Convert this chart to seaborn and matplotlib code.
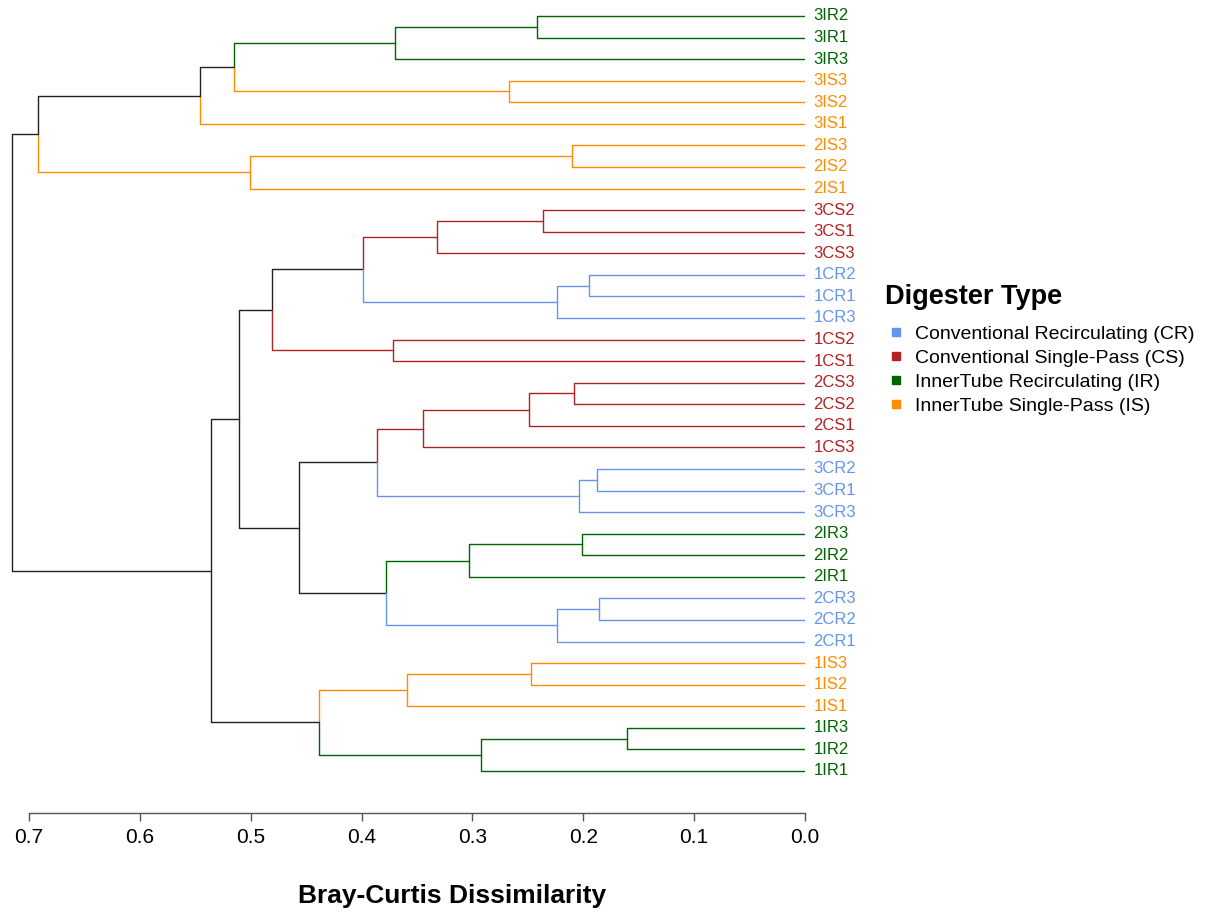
import matplotlib
matplotlib.use("Agg")
import matplotlib.pyplot as plt
from matplotlib.lines import Line2D
import seaborn as sns
import pandas as pd

# ---- data: hierarchical clustering merges (child_a, child_b, Bray-Curtis height) ----
merge_a = ["3IR2", "m0", "3IS3", "m1", "m3", "2IS3", "m5", "m4",
           "3CS2", "m8", "1CR2", "m10", "m9", "1CS2", "m12",
           "2CS3", "m15", "m16", "3CR2", "m18", "m17",
           "2IR3", "m21", "2CR3", "m23", "m22", "m20", "m14",
           "1IS3", "m28", "1IR3", "m30", "m29", "m27", "m7"]
merge_b = ["3IR1", "3IR3", "3IS2", "m2", "3IS1", "2IS2", "2IS1", "m6",
           "3CS1", "3CS3", "1CR1", "1CR3", "m11", "1CS1", "m13",
           "2CS2", "2CS1", "1CS3", "3CR1", "3CR3", "m19",
           "2IR2", "2IR1", "2CR2", "2CR1", "m24", "m25", "m26",
           "1IS2", "1IS1", "1IR2", "1IR1", "m31", "m32", "m33"]
merge_h = [0.242, 0.370, 0.267, 0.515, 0.546, 0.210, 0.501, 0.692,
           0.236, 0.332, 0.195, 0.224, 0.399, 0.372, 0.481,
           0.208, 0.249, 0.345, 0.188, 0.204, 0.386,
           0.201, 0.303, 0.186, 0.224, 0.378, 0.456, 0.511,
           0.247, 0.359, 0.161, 0.292, 0.438, 0.536, 0.715]

group_codes = ["CR", "CS", "IR", "IS"]
group_names = ["Conventional Recirculating (CR)", "Conventional Single-Pass (CS)",
               "InnerTube Recirculating (IR)", "InnerTube Single-Pass (IS)"]
group_colors = ["#6495ED", "#B22222", "#006400", "#FF8C00"]
tick_values = [0.7, 0.6, 0.5, 0.4, 0.3, 0.2, 0.1, 0.0]

# ---- build dendrogram geometry from the merges ----
pal = dict(zip(group_codes, group_colors))
pal["none"] = "#222222"
leaf_order = []
def collect(node):
    if node.startswith("m"):
        i = int(node[1:])
        collect(merge_a[i]); collect(merge_b[i])
    else:
        leaf_order.append(node)
root = "m%d" % (len(merge_h) - 1)
collect(root)

rows = []
seg_id = [0]
def layout(node):
    if not node.startswith("m"):
        return 0.0, float(leaf_order.index(node)), node[1:3]
    i = int(node[1:])
    h = merge_h[i]
    kids = [layout(merge_a[i]), layout(merge_b[i])]
    yc = (kids[0][1] + kids[1][1]) / 2.0
    for cx, cy, cc in kids:
        c = cc if cc is not None else "none"
        for px, py in [(h, yc), (h, cy), (cx, cy)]:
            rows.append({"x": px, "y": py, "seg": seg_id[0], "grp": c})
        seg_id[0] += 1
    col = kids[0][2] if kids[0][2] == kids[1][2] else None
    return h, yc, col
layout(root)
df = pd.DataFrame(rows)

# ---- draw ----
sns.set_theme(style="white")
plt.rcParams["font.family"] = ["Liberation Sans", "DejaVu Sans"]

W, H = 1212, 914
fig = plt.figure(figsize=(W / 100, H / 100), dpi=100)
px_per_unit = 1108.6
ax_left_px, ax_right_px = 0, 805
ax = fig.add_axes([ax_left_px / W, (H - 813) / H, (ax_right_px - ax_left_px) / W, (813 - 5) / H])

sns.lineplot(data=df, x="x", y="y", units="seg", hue="grp", palette=pal,
             estimator=None, sort=False, legend=False, linewidth=1.0, ax=ax)

ax.set_xlim((ax_right_px - ax_left_px) / px_per_unit, 0)
step = 21.571
ax.set_ylim((813 - 16) / step, (5 - 16) / step)

for i, lab in enumerate(leaf_order):
    ax.text(-0.0075, i, lab, va="center", ha="left", fontsize=12,
            color=pal[lab[1:3]], clip_on=False)

for s in ["top", "left", "right"]:
    ax.spines[s].set_visible(False)
ax.spines["bottom"].set_bounds(0, 0.7)
ax.spines["bottom"].set_color("#555555")
ax.spines["bottom"].set_linewidth(1.0)
ax.set_yticks([])
ax.set_xticks(tick_values)
ax.set_xticklabels(["%.1f" % v for v in tick_values])
ax.tick_params(axis="x", bottom=True, length=6, width=1, color="#555555",
               labelsize=15, pad=5, labelcolor="black")
ax.set_ylabel("")
ax.set_xlabel("")

fig.text(452 / W, 1 - 896 / H, "Bray-Curtis Dissimilarity", fontsize=19,
         fontweight="bold", ha="center", va="center", color="black")

fig.text(885 / W, 1 - 297 / H, "Digester Type", fontsize=19.5,
         fontweight="bold", ha="left", va="center", color="black")

handles = [Line2D([0], [0], marker="s", linestyle="none", markersize=5.5,
                  markerfacecolor=c, markeredgecolor=c) for c in group_colors]
leg = fig.legend(handles, group_names, loc="upper left",
                 bbox_to_anchor=(885 / W, 1 - 325 / H), frameon=False,
                 fontsize=14, handlelength=1.13, borderpad=0, borderaxespad=0,
                 handletextpad=0.41, labelspacing=0.33)
for t in leg.get_texts():
    t.set_color("black")

fig.savefig("out.png", dpi=100)
